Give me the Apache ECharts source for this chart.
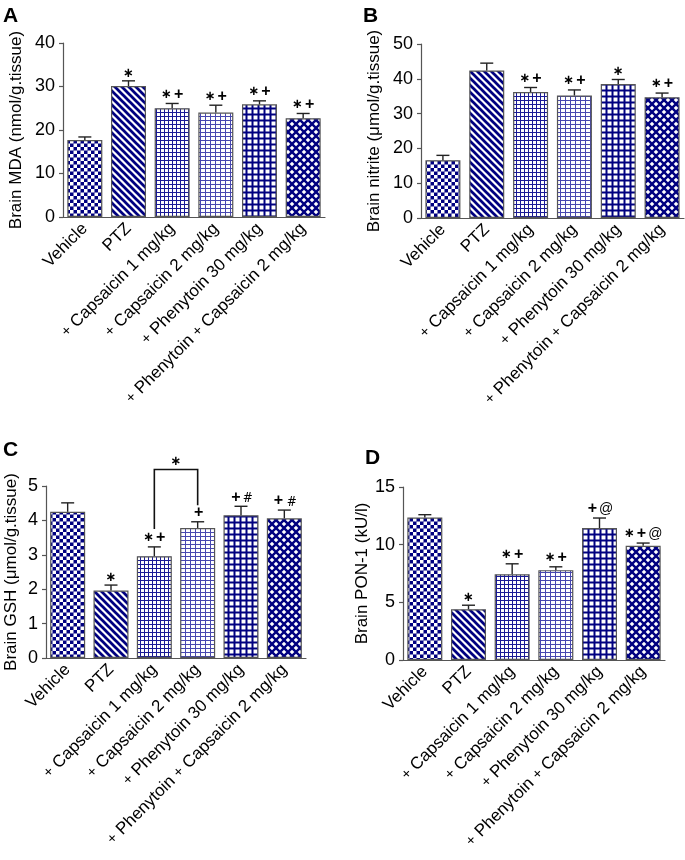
<!DOCTYPE html>
<html><head><meta charset="utf-8">
<script src="https://cdn.jsdelivr.net/npm/echarts@6/dist/echarts.min.js"></script>
<style>html,body{margin:0;padding:0;background:#fff}#c{width:685px;height:860px}</style>
</head><body><div id="c"></div>
<script>
const categories = ['Vehicle', 'PTZ', '+ Capsaicin 1 mg/kg', '+ Capsaicin 2 mg/kg', '+ Phenytoin 30 mg/kg', '+ Phenytoin + Capsaicin 2 mg/kg'];

const mdaMean = [17.7, 30.1, 25.0, 24.0, 25.9, 22.7];
const mdaSem = [0.7, 1.2, 1.1, 1.7, 0.8, 1.1];
const mdaSig = ['', '*', '*+', '*+', '*+', '*+'];

const nitriteMean = [16.6, 42.4, 36.2, 35.2, 38.5, 34.7];
const nitriteSem = [1.4, 2.1, 1.3, 1.6, 1.3, 1.2];
const nitriteSig = ['', '', '*+', '*+', '*', '*+'];

const gshMean = [4.25, 1.96, 2.96, 3.78, 4.15, 4.06];
const gshSem = [0.26, 0.16, 0.27, 0.18, 0.26, 0.24];
const gshSig = ['', '*', '*+', '+', '+#', '+ #'];

const ponMean = [12.36, 4.40, 7.44, 7.79, 11.44, 9.90];
const ponSem = [0.24, 0.35, 0.90, 0.29, 0.87, 0.24];
const ponSig = ['', '*', '*+', '*+', '+@', '*+@'];

const yTicksA = [0, 10, 20, 30, 40];
const yTicksB = [0, 10, 20, 30, 40, 50];
const yTicksC = [0, 1, 2, 3, 4, 5];
const yTicksD = [0, 5, 10, 15];

// bracket in panel C: between categories 2 and 3
const bracketC = { from: 2, to: 3, leftY: 3.75, rightY: 4.44, topY: 5.48, label: '*' };

const NAVY = '#000080';
function mk(w, h, draw) {
  const c = document.createElement('canvas'); c.width = w; c.height = h;
  const g = c.getContext('2d'); draw(g, w, h);
  return { image: c, repeat: 'repeat' };
}
const patterns = [
  mk(7, 7, (g) => { g.fillStyle = NAVY; g.fillRect(0, 0, 7, 7); g.fillStyle = '#fff'; g.fillRect(0, 0, 3.5, 3.5); g.fillRect(3.5, 3.5, 3.5, 3.5); }),
  mk(7, 7, (g) => { g.fillStyle = '#fff'; g.fillRect(0, 0, 7, 7); g.strokeStyle = NAVY; g.lineWidth = 2.7;
    for (const o of [-7, 0, 7]) { g.beginPath(); g.moveTo(o - 7, -7); g.lineTo(o + 14, 14); g.stroke(); } }),
  mk(4, 4, (g) => { g.fillStyle = '#fff'; g.fillRect(0, 0, 4, 4); g.fillStyle = '#1a1a96'; g.fillRect(0, 0, 4, 1); g.fillRect(0, 0, 1, 4); }),
  mk(5, 4, (g) => { g.fillStyle = '#fff'; g.fillRect(0, 0, 5, 4); g.fillStyle = '#4848b0'; g.fillRect(0, 0, 5, 1); g.fillRect(0, 0, 1, 4); }),
  mk(6, 6, (g) => { g.fillStyle = NAVY; g.fillRect(0, 0, 6, 6); g.fillStyle = '#fff'; g.fillRect(1.5, 1.5, 4, 4); }),
  mk(8, 8, (g) => { g.fillStyle = NAVY; g.fillRect(0, 0, 8, 8); g.fillStyle = '#fff';
    const d = 2.3; for (const [cx, cy] of [[0,0],[8,0],[0,8],[8,8],[4,4]]) { g.beginPath(); g.moveTo(cx - d, cy); g.lineTo(cx, cy - d); g.lineTo(cx + d, cy); g.lineTo(cx, cy + d); g.closePath(); g.fill(); } })
];

const FONT = 'Liberation Sans, Arial, sans-serif';
const sigRich = {
  s: { fontSize: 13, fontWeight: 'bold', fontFamily: 'DejaVu Sans, sans-serif', color: '#000' },
  p: { fontSize: 16, fontWeight: 'bold', fontFamily: FONT, color: '#000', padding: [0, 0, 0, 2] },
  h: { fontSize: 12, fontFamily: 'DejaVu Serif, serif', color: '#222', padding: [4, 0, 0, 2] },
  a: { fontSize: 14, fontFamily: FONT, color: '#333', padding: [0, 0, 0, 2] },
  w: { fontSize: 6 }
};
function sigText(s) {
  return s.split('').map(ch => ch === '*' ? '{s|\u2217}' : ch === '+' ? '{p|+}' : ch === '#' ? '{h|#}' : ch === '@' ? '{a|@}' : '{w| }').join('');
}

const panels = [
  { grid: { left: 63, top: 43, width: 262, height: 174 }, mean: mdaMean, sem: mdaSem, sig: mdaSig, ticks: yTicksA, name: 'Brain MDA (nmol/g.tissue)', gap: 38 },
  { grid: { left: 421, top: 44, width: 263, height: 174 }, mean: nitriteMean, sem: nitriteSem, sig: nitriteSig, ticks: yTicksB, name: 'Brain nitrite (μmol/g.tissue)', gap: 38 },
  { grid: { left: 46, top: 486, width: 260, height: 172 }, mean: gshMean, sem: gshSem, sig: gshSig, ticks: yTicksC, name: 'Brain GSH (μmol/g.tissue)', gap: 26 },
  { grid: { left: 403, top: 487, width: 262, height: 173 }, mean: ponMean, sem: ponSem, sig: ponSig, ticks: yTicksD, name: 'Brain PON-1 (kU/l)', gap: 19 }
];

const grids = [], xAxes = [], yAxes = [], series = [];
panels.forEach((p, k) => {
  grids.push(p.grid);
  xAxes.push({
    type: 'category', gridIndex: k, data: categories,
    axisLine: { lineStyle: { color: '#555', width: 1.2 } }, axisTick: { show: false },
    axisLabel: { rotate: 45, interval: 0, fontSize: 17, fontFamily: FONT, color: '#000', margin: 9,
      formatter: v => v.replace(/\+/g, '{p|+}'), rich: { p: { fontSize: 15, fontFamily: FONT, color: '#000' } } }
  });
  const t = p.ticks;
  yAxes.push({
    type: 'value', gridIndex: k, min: t[0], max: t[t.length - 1], interval: t[1] - t[0],
    axisLine: { show: true, lineStyle: { color: '#555', width: 1.2 } },
    axisTick: { show: true, length: 4, lineStyle: { color: '#555', width: 1.2 } },
    splitLine: { show: false },
    axisLabel: { fontSize: 18, fontFamily: FONT, color: '#000', margin: 8 },
    name: p.name, nameLocation: 'middle', nameRotate: 90, nameGap: p.gap,
    nameTextStyle: { fontSize: 17, fontFamily: FONT, color: '#000' }
  });
  series.push({
    type: 'bar', xAxisIndex: k, yAxisIndex: k, barWidth: 35,
    data: p.mean.map((v, i) => ({ value: v, itemStyle: { color: patterns[i], borderColor: '#555', borderWidth: 1.2 } })),
    silent: true, animation: false
  });
  series.push({
    type: 'custom', xAxisIndex: k, yAxisIndex: k, clip: false, z: 5, animation: false,
    data: p.mean.map((v, i) => [i, v, v + p.sem[i]]),
    renderItem: (params, api) => {
      const i = api.value(0);
      const base = api.coord([i, api.value(1)]);
      const top = api.coord([i, api.value(2)]);
      const x = base[0];
      const s = p.sig[params.dataIndex];
      const children = [
        { type: 'line', shape: { x1: x, y1: base[1], x2: x, y2: top[1] }, style: { stroke: '#222', lineWidth: 1.4 } },
        { type: 'line', shape: { x1: x - 6.5, y1: top[1], x2: x + 6.5, y2: top[1] }, style: { stroke: '#222', lineWidth: 1.4 } }
      ];
      if (s) children.push({ type: 'text', x: x, y: top[1] - 1, style: { text: sigText(s), align: 'center', verticalAlign: 'bottom', rich: sigRich } });
      return { type: 'group', children };
    }
  });
});

// bracket in panel C
series.push({
  type: 'custom', xAxisIndex: 2, yAxisIndex: 2, clip: false, z: 6, animation: false,
  data: [[bracketC.from, bracketC.to, bracketC.leftY, bracketC.rightY, bracketC.topY]],
  renderItem: (params, api) => {
    const l0 = api.coord([api.value(0), api.value(2)]);
    const lt = api.coord([api.value(0), api.value(4)]);
    const rt = api.coord([api.value(1), api.value(4)]);
    const r0 = api.coord([api.value(1), api.value(3)]);
    return { type: 'group', children: [
      { type: 'polyline', shape: { points: [l0, lt, rt, r0] }, style: { stroke: '#111', lineWidth: 1.6, fill: null } },
      { type: 'text', x: (lt[0] + rt[0]) / 2, y: lt[1] - 1, style: { text: '{s|\u2217}', align: 'center', verticalAlign: 'bottom', rich: sigRich } }
    ] };
  }
});

const letters = [['A', 3, 6], ['B', 363, 6], ['C', 3, 440], ['D', 365, 448]];
const chart = echarts.init(document.getElementById('c'), null, { renderer: 'canvas' });
chart.setOption({
  animation: false,
  grid: grids, xAxis: xAxes, yAxis: yAxes, series,
  graphic: letters.map(([t, x, y]) => ({ type: 'text', left: x, top: y, style: { text: t, fontSize: 21, fontWeight: 'bold', fontFamily: FONT, fill: '#000' } }))
});
</script></body></html>
